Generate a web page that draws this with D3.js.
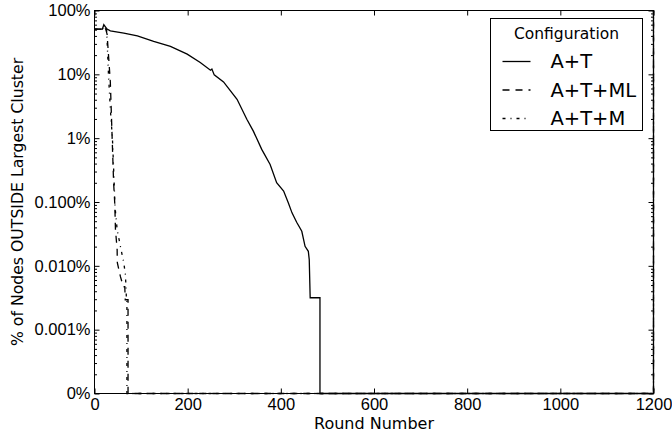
<!DOCTYPE html>
<html>
<head>
<meta charset="utf-8">
<script src="https://cdn.jsdelivr.net/npm/d3@7"></script>
<style>
  body { margin: 0; background: #fff; }
  svg { display: block; font-family: "DejaVu Sans", sans-serif; }
  .tick text { font-size: 16.5px; fill: #000; }
  .tick line { stroke: #000; }
</style>
</head>
<body>
<svg id="chart" width="672" height="436"></svg>
<script>
// values in percent, 0 means the series has dropped to nothing
const roundsAT = [0, 17, 20, 27, 34, 63, 92, 127, 163, 199, 227, 249, 252, 257, 277, 306, 327, 341, 359, 377, 391, 406, 416, 424, 434, 445, 452, 459, 461, 463, 484, 484, 1200, 1200];
const valuesAT = [51.2, 51.2, 59.8, 51.2, 48.1, 44.3, 40.2, 32.8, 27.4, 20.7, 15.3, 11.6, 12.1, 9.8, 7.6, 4.06, 1.98, 1.29, 0.667, 0.387, 0.20, 0.148, 0.097, 0.0676, 0.0482, 0.0348, 0.0202, 0.0169, 0.0125, 0.00316, 0.00316, 0, 0, 100];

const roundsATML = [0, 17, 21, 24, 27, 34, 38, 41, 43.5, 45, 48.6, 49, 55.7, 62, 65, 66, 72, 72, 1200, 1200];
const valuesATML = [51.2, 51.2, 56, 51, 42.7, 7.53, 0.955, 0.202, 0.0946, 0.037, 0.018, 0.0112, 0.00676, 0.0047, 0.0047, 0.00294, 0.00294, 0, 0, 100];

const roundsATM = [0, 17, 21, 26, 30, 34, 38.6, 41, 44, 48.6, 55.7, 62.8, 66.4, 67.5, 68.6, 69.6, 69.6, 1200, 1200];
const valuesATM = [51.2, 51.2, 56, 51, 10.07, 2.84, 0.955, 0.348, 0.085, 0.037, 0.02, 0.0112, 0.00726, 0.0047, 0.00294, 0.00294, 0, 0, 100];

const seriesNames = ['A+T', 'A+T+ML', 'A+T+M'];
const seriesDash = ['none', '7,6', '3,5,1,5'];

const xTicks = [0, 200, 400, 600, 800, 1000, 1200];
const yTicks = [1e-4, 1e-3, 1e-2, 1e-1, 1, 10, 100];
const yTickLabels = ['0%', '0.001%', '0.010%', '0.100%', '1%', '10%', '100%'];

const svg = d3.select('#chart');
const margin = {top: 10.5, right: 18.5, bottom: 42.5, left: 94.5};
const width = +svg.attr('width');
const height = +svg.attr('height');
const innerW = width - margin.left - margin.right;
const innerH = height - margin.top - margin.bottom;

const g = svg.append('g').attr('transform', `translate(${margin.left},${margin.top})`);

const x = d3.scaleLinear().domain([0, 1200]).range([0, innerW]);
const y = d3.scaleLog().domain([1e-4, 100]).range([innerH, 0]);
const yMin = y.domain()[0];

// minor log ticks 2..9 per decade
const minorY = [];
for (let e = -4; e < 2; e++) {
  for (let k = 2; k <= 9; k++) minorY.push(k * Math.pow(10, e));
}

// axes, ticks pointing inward
const axes = [
  g.append('g').attr('transform', `translate(0,${innerH})`)
    .call(d3.axisBottom(x).tickValues(xTicks).tickSize(-5).tickPadding(5).tickFormat(d3.format('d'))),
  g.append('g')
    .call(d3.axisTop(x).tickValues(xTicks).tickSize(-5).tickFormat('')),
  g.append('g')
    .call(d3.axisLeft(y).tickValues(yTicks).tickSize(-5).tickPadding(4)
      .tickFormat((d, i) => yTickLabels[i])),
  g.append('g')
    .call(d3.axisLeft(y).tickValues(minorY).tickSize(-2.5).tickFormat('')),
  g.append('g').attr('transform', `translate(${innerW},0)`)
    .call(d3.axisRight(y).tickValues(yTicks).tickSize(-5).tickFormat('')),
  g.append('g').attr('transform', `translate(${innerW},0)`)
    .call(d3.axisRight(y).tickValues(minorY).tickSize(-2.5).tickFormat(''))
];
axes.forEach(a => { a.select('.domain').remove(); a.selectAll('text').attr('fill', '#000'); });

const line = d3.line()
  .x(d => x(d[0]))
  .y(d => y(Math.max(d[1], yMin)));

const seriesData = [
  d3.zip(roundsAT, valuesAT),
  d3.zip(roundsATML, valuesATML),
  d3.zip(roundsATM, valuesATM)
];

g.selectAll('.line-path')
  .data(seriesData)
  .enter().append('path')
    .attr('class', 'line-path')
    .attr('d', line)
    .attr('fill', 'none')
    .attr('stroke', '#000')
    .attr('stroke-width', 1.3)
    .attr('stroke-dasharray', (d, i) => seriesDash[i]);

// frame
g.append('rect')
  .attr('width', innerW).attr('height', innerH)
  .attr('fill', 'none').attr('stroke', '#000').attr('stroke-width', 1);

// axis labels
svg.append('text')
  .attr('x', margin.left + innerW / 2)
  .attr('y', 429)
  .attr('text-anchor', 'middle')
  .style('font-size', '16px')
  .text('Round Number');

svg.append('text')
  .attr('transform', `translate(17,${margin.top + innerH / 2}) rotate(-90)`)
  .attr('text-anchor', 'middle')
  .attr('dy', '0.35em')
  .style('font-size', '15.7px')
  .text('% of Nodes OUTSIDE Largest Cluster');

// legend
const legend = svg.append('g').attr('transform', 'translate(490.5,18.5)');
legend.append('rect')
  .attr('width', 152).attr('height', 112)
  .attr('fill', '#fff').attr('stroke', '#000').attr('stroke-width', 1);
legend.append('text')
  .attr('x', 76).attr('y', 20)
  .attr('text-anchor', 'middle')
  .style('font-size', '15.5px')
  .text('Configuration');
seriesNames.forEach((name, i) => {
  const yy = 43 + i * 28.5;
  legend.append('line')
    .attr('x1', 12).attr('x2', 40)
    .attr('y1', yy).attr('y2', yy)
    .attr('stroke', '#000').attr('stroke-width', 1.3)
    .attr('stroke-dasharray', seriesDash[i]);
  legend.append('text')
    .attr('x', 60).attr('y', yy + 6.5)
    .style('font-size', '19.5px')
    .text(name);
});
</script>
</body>
</html>
